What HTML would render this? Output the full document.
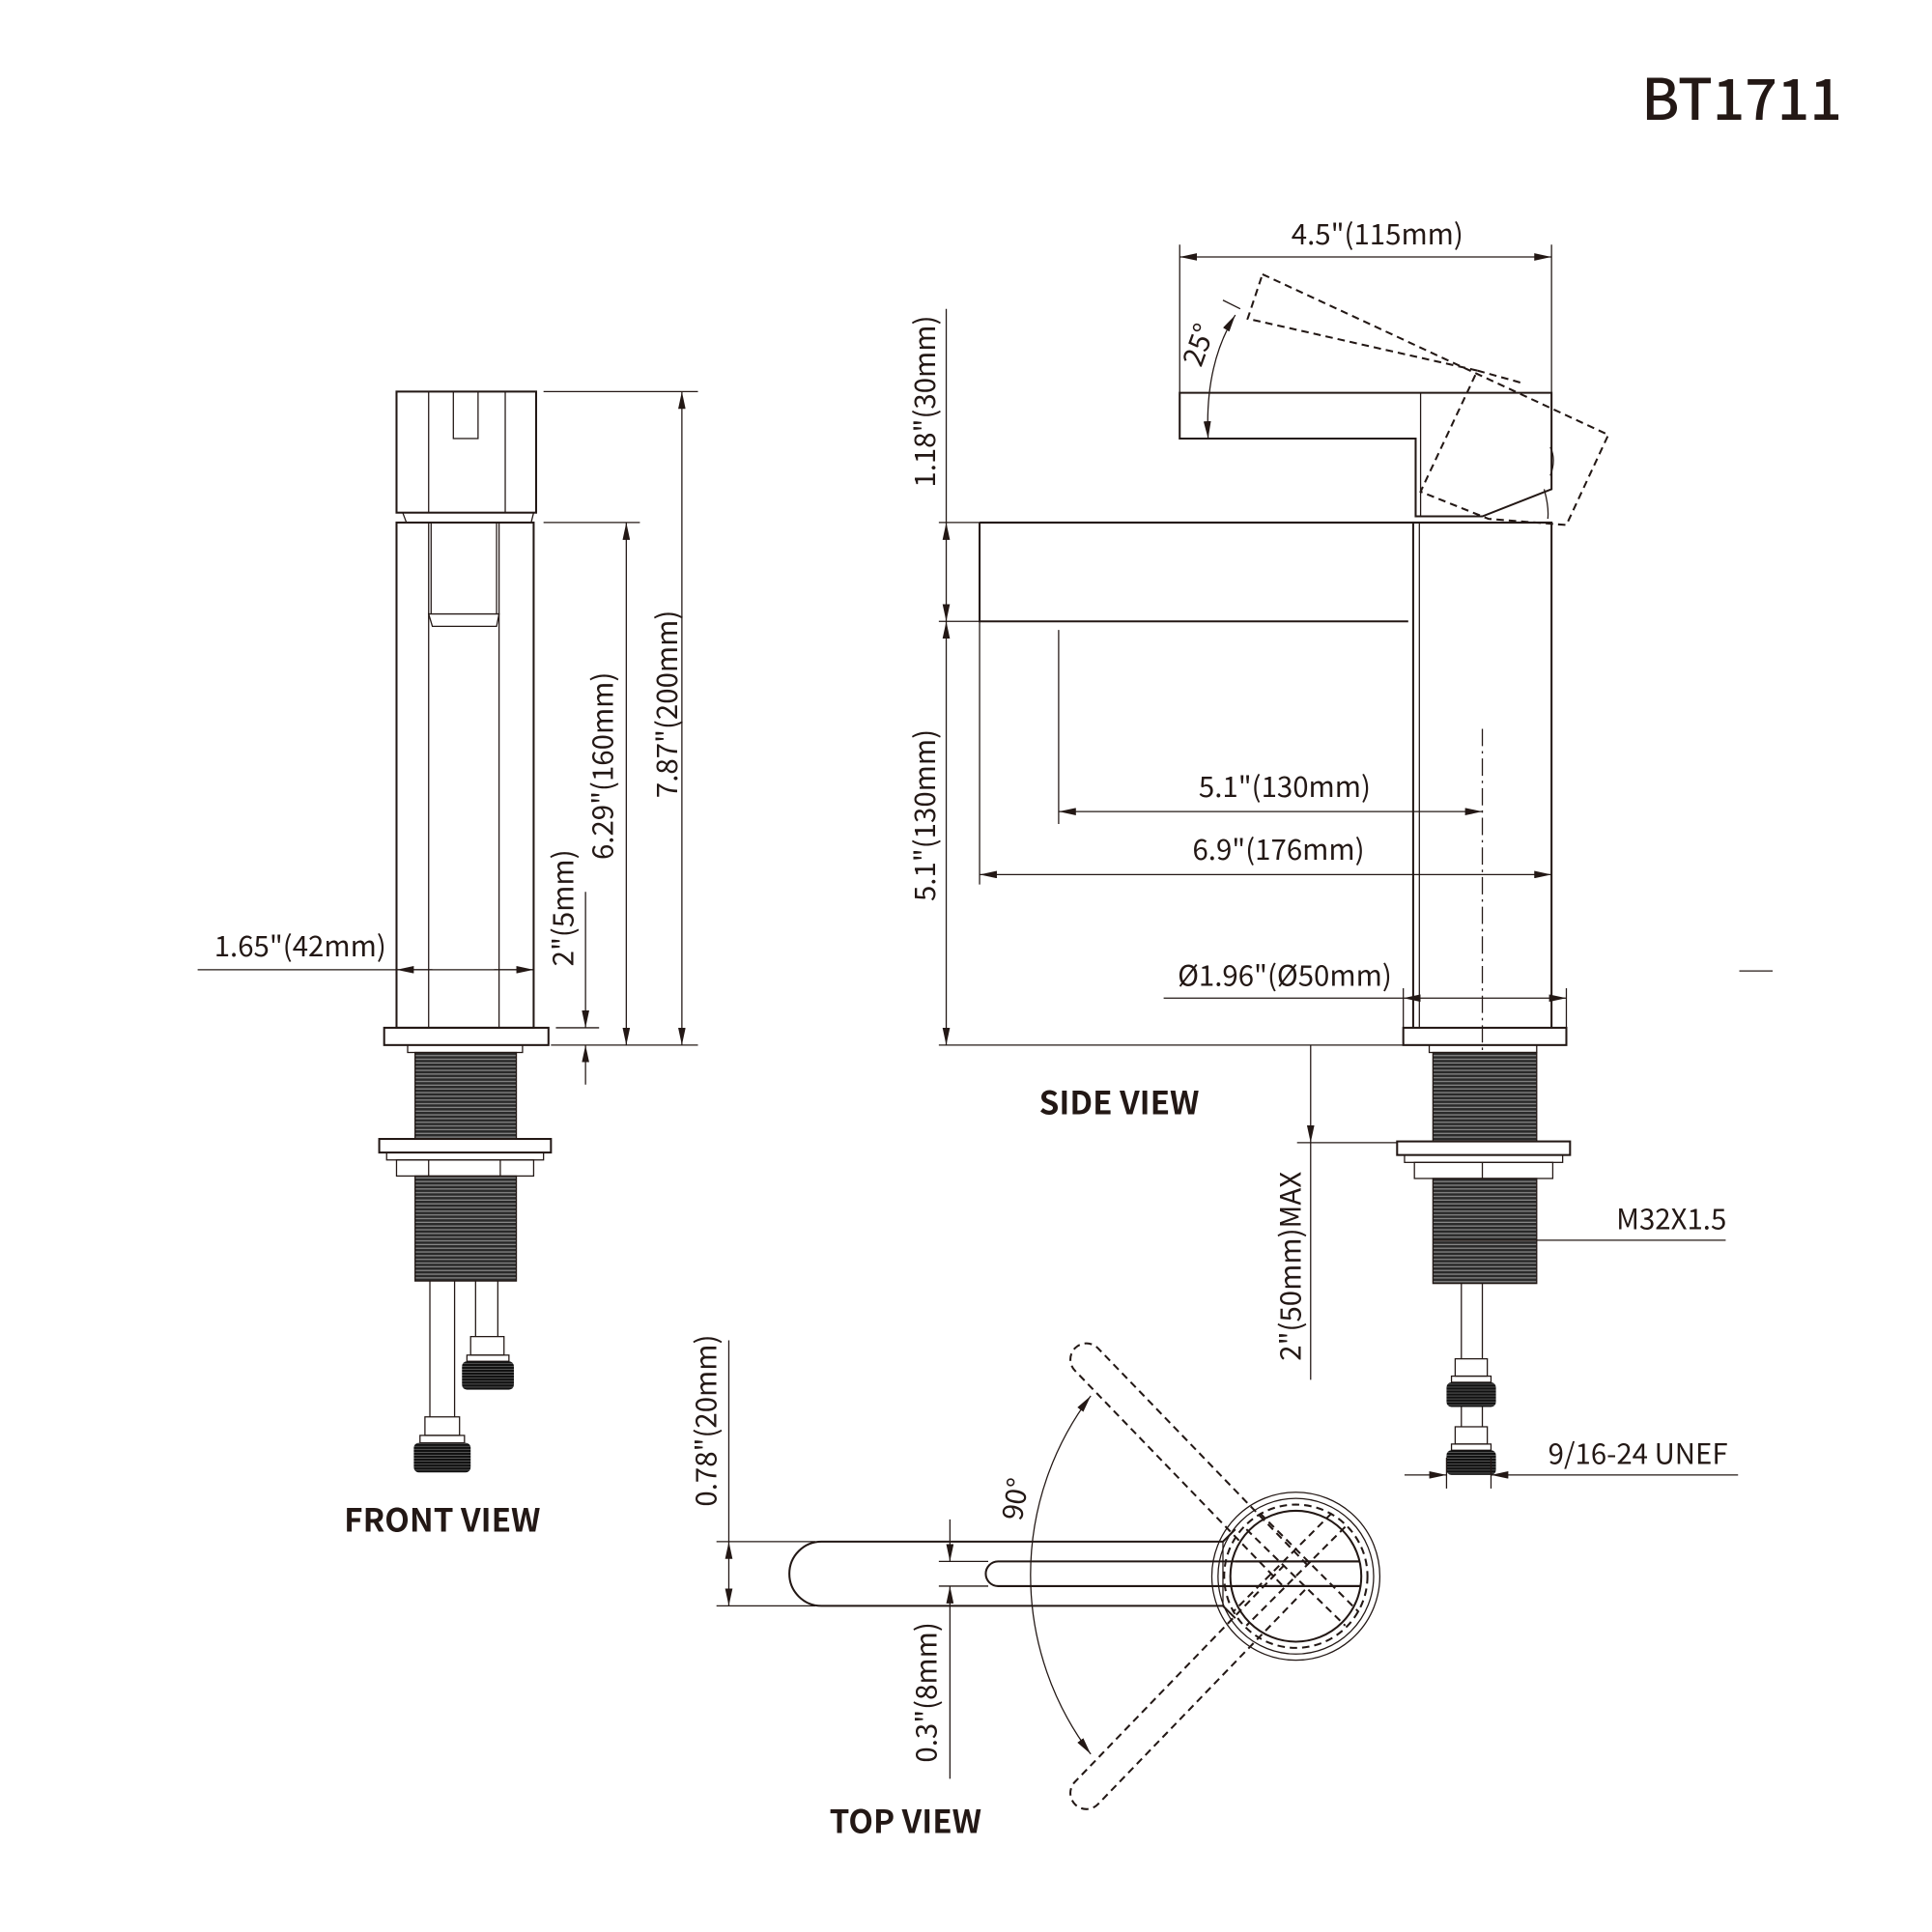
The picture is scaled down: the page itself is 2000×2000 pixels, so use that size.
<!DOCTYPE html>
<html><head><meta charset="utf-8"><style>
html,body{margin:0;padding:0;background:#fff;}
svg{display:block;}
text{font-family:"Liberation Sans","Noto Sans CJK SC",sans-serif;fill:#231815;}
.l{fill:none;stroke:#231815;stroke-width:1.6;}
.t{fill:none;stroke:#231815;stroke-width:1;}
.d{fill:none;stroke:#231815;stroke-width:1.6;stroke-dasharray:6 4;}
.lab{font-family:"Noto Sans CJK SC","Liberation Sans",sans-serif;font-size:23px;}
.big{font-family:"Noto Sans CJK SC","Liberation Sans",sans-serif;font-size:26px;font-weight:bold;}
</style></head><body>
<svg width="2000" height="2000" viewBox="0 0 1564 1564" xmlns="http://www.w3.org/2000/svg">
<defs>
<marker id="a" markerWidth="14" markerHeight="6" refX="14" refY="3" orient="auto" markerUnits="userSpaceOnUse"><path d="M0,0 L14,3 L0,6 Z" fill="#231815"/></marker>
<marker id="b" markerWidth="14" markerHeight="6" refX="0" refY="3" orient="auto" markerUnits="userSpaceOnUse"><path d="M14,0 L0,3 L14,6 Z" fill="#231815"/></marker>
<pattern id="th" width="6" height="3" patternUnits="userSpaceOnUse"><rect width="6" height="3" fill="#888"/><rect width="6" height="2" fill="#2a2a2a"/></pattern>
<pattern id="th2" width="6" height="2.4" patternUnits="userSpaceOnUse"><rect width="6" height="2.4" fill="#666"/><rect width="6" height="1.8" fill="#111"/></pattern>
</defs>

<text x="1410" y="97" text-anchor="middle" style="font-family:'Noto Sans CJK SC','Liberation Sans',sans-serif;font-size:46px;font-weight:500;">BT1711</text>

<!-- FRONT VIEW -->
<g>
<rect class="l" x="321" y="317" width="113" height="98"/>
<line class="t" x1="347" y1="317" x2="347" y2="415"/>
<line class="t" x1="409" y1="317" x2="409" y2="415"/>
<rect class="t" x="367" y="317" width="20" height="38"/>
<path class="t" d="M326,415 L329,423 L430,423 L432,415"/>
<rect class="l" x="321" y="423" width="111" height="409"/>
<line class="t" x1="347" y1="423" x2="347" y2="832"/>
<line class="t" x1="404" y1="423" x2="404" y2="832"/>
<line class="t" x1="349" y1="423" x2="349" y2="497"/>
<line class="t" x1="402" y1="423" x2="402" y2="497"/>
<path class="t" d="M347,497 L404,497 L402,507 L350,507 Z"/>
<rect class="l" x="311" y="832" width="133" height="14"/>
<rect class="t" x="330" y="846" width="93" height="6"/>
<rect x="336" y="852" width="82" height="70" fill="url(#th)" stroke="#231815" stroke-width="1"/>
<rect class="l" x="307" y="922" width="139" height="11"/>
<rect class="t" x="313" y="933" width="127" height="6"/>
<rect class="t" x="321" y="939" width="111" height="13"/>
<line class="t" x1="347" y1="939" x2="347" y2="952"/><line class="t" x1="405" y1="939" x2="405" y2="952"/>
<rect x="336" y="952" width="82" height="85" fill="url(#th)" stroke="#231815" stroke-width="1"/>
<line class="t" x1="348" y1="1037" x2="348" y2="1147"/><line class="t" x1="368" y1="1037" x2="368" y2="1147"/>
<rect class="t" x="344" y="1147" width="28" height="15"/>
<rect class="t" x="340" y="1162" width="36" height="6"/>
<rect x="335" y="1168" width="46" height="24" rx="4" fill="url(#th2)"/>
<line class="t" x1="385" y1="1037" x2="385" y2="1082"/><line class="t" x1="403" y1="1037" x2="403" y2="1082"/>
<rect class="t" x="381" y="1082" width="27" height="15"/>
<rect class="t" x="378" y="1097" width="34" height="5"/>
<rect x="374" y="1102" width="42" height="23" rx="4" fill="url(#th2)"/>

<line class="t" x1="440" y1="317" x2="565" y2="317"/>
<line class="t" x1="446" y1="846" x2="565" y2="846"/>
<line class="t" x1="552" y1="317" x2="552" y2="846" marker-start="url(#b)" marker-end="url(#a)"/>
<text class="lab" transform="translate(548,570) rotate(-90)" text-anchor="middle">7.87"(200mm)</text>
<line class="t" x1="440" y1="423" x2="518" y2="423"/>
<line class="t" x1="507" y1="423" x2="507" y2="846" marker-start="url(#b)" marker-end="url(#a)"/>
<text class="lab" transform="translate(496,620) rotate(-90)" text-anchor="middle">6.29"(160mm)</text>
<line class="t" x1="450" y1="832" x2="485" y2="832"/>
<line class="t" x1="474" y1="722" x2="474" y2="832" marker-end="url(#a)"/>
<line class="t" x1="474" y1="878" x2="474" y2="846" marker-end="url(#a)"/>
<text class="lab" transform="translate(464,735) rotate(-90)" text-anchor="middle">2"(5mm)</text>
<line class="t" x1="160" y1="785" x2="432" y2="785"/>
<line class="t" x1="350" y1="785" x2="321" y2="785" marker-end="url(#a)"/>
<line class="t" x1="400" y1="785" x2="432" y2="785" marker-end="url(#a)"/>
<text class="lab" x="243" y="774" text-anchor="middle">1.65"(42mm)</text>
<text class="big" x="358" y="1240" text-anchor="middle">FRONT VIEW</text>
</g>

<!-- SIDE VIEW -->
<g>
<path class="l" d="M955,318 L1256,318 L1256,396 L1200,418 L1146,418 L1146,355 L955,355 Z"/>
<line class="t" x1="1150" y1="318" x2="1150" y2="418"/>
<path class="t" d="M1250,396 Q1254,410 1253,420"/>
<path class="t" d="M1255,362 Q1260,372 1255,385"/>
<path class="d" d="M1022,222 L1302,352 L1268,425 L1205,420 L1150,398 L1196,300 L1010,258 Z"/>
<path class="d" d="M1196,300 L1232,310"/>
<path class="l" d="M793,423 L1256,423 L1256,832"/>
<path class="l" d="M793,423 L793,503 L1140,503"/>
<line class="l" x1="1144" y1="423" x2="1144" y2="832"/>
<line class="t" x1="1149" y1="423" x2="1149" y2="832"/>
<line class="t" x1="1136" y1="800" x2="1136" y2="832"/>
<line class="t" x1="1268" y1="800" x2="1268" y2="832"/>
<rect class="l" x="1136" y="832" width="132" height="14"/>
<line class="t" x1="1200" y1="590" x2="1200" y2="860" stroke-dasharray="14 4 2 4"/>
<rect class="t" x="1157" y="846" width="87" height="6"/>
<rect x="1160" y="852" width="84" height="72" fill="url(#th)" stroke="#231815" stroke-width="1"/>
<rect class="l" x="1131" y="924" width="140" height="11"/>
<rect class="t" x="1137" y="935" width="128" height="6"/>
<rect class="t" x="1145" y="941" width="112" height="13"/>
<line class="t" x1="1200" y1="941" x2="1200" y2="954"/>
<rect x="1160" y="954" width="84" height="85" fill="url(#th)" stroke="#231815" stroke-width="1"/>
<line class="t" x1="1183" y1="1039" x2="1183" y2="1100"/><line class="t" x1="1200" y1="1039" x2="1200" y2="1100"/>
<rect class="t" x="1178" y="1100" width="26" height="14"/>
<rect class="t" x="1175" y="1114" width="32" height="5"/>
<rect x="1171" y="1119" width="40" height="20" rx="4" fill="url(#th2)"/>
<line class="t" x1="1183" y1="1139" x2="1183" y2="1155"/><line class="t" x1="1200" y1="1139" x2="1200" y2="1155"/>
<rect class="t" x="1178" y="1155" width="26" height="14"/>
<rect class="t" x="1175" y="1169" width="32" height="5"/>
<rect x="1171" y="1174" width="40" height="20" rx="4" fill="url(#th2)"/>

<line class="t" x1="955" y1="198" x2="955" y2="318"/>
<line class="t" x1="1256" y1="198" x2="1256" y2="318"/>
<line class="t" x1="955" y1="208" x2="1256" y2="208" marker-start="url(#b)" marker-end="url(#a)"/>
<text class="lab" x="1115" y="198" text-anchor="middle">4.5"(115mm)</text>
<path class="t" d="M978,355 Q975,295 1000,255" marker-start="url(#b)" marker-end="url(#a)"/>
<line class="t" x1="990" y1="243" x2="1004" y2="250"/>
<text class="lab" transform="translate(978,282) rotate(-70)" text-anchor="middle">25°</text>
<line class="t" x1="760" y1="423" x2="793" y2="423"/>
<line class="t" x1="760" y1="503" x2="793" y2="503"/>
<line class="t" x1="766" y1="423" x2="766" y2="503" marker-start="url(#b)" marker-end="url(#a)"/>
<line class="t" x1="766" y1="250" x2="766" y2="423"/>
<text class="lab" transform="translate(757,325) rotate(-90)" text-anchor="middle">1.18"(30mm)</text>
<line class="t" x1="766" y1="503" x2="766" y2="846" marker-start="url(#b)" marker-end="url(#a)"/>
<line class="t" x1="760" y1="846" x2="1136" y2="846"/>
<text class="lab" transform="translate(757,660) rotate(-90)" text-anchor="middle">5.1"(130mm)</text>
<line class="t" x1="857" y1="510" x2="857" y2="667"/>
<line class="t" x1="857" y1="657" x2="1200" y2="657" marker-start="url(#b)" marker-end="url(#a)"/>
<text class="lab" x="1040" y="645" text-anchor="middle">5.1"(130mm)</text>
<line class="t" x1="793" y1="503" x2="793" y2="716"/>
<line class="t" x1="793" y1="708" x2="1256" y2="708" marker-start="url(#b)" marker-end="url(#a)"/>
<text class="lab" x="1035" y="696" text-anchor="middle">6.9"(176mm)</text>
<line class="t" x1="942" y1="808" x2="1136" y2="808"/>
<line class="t" x1="1136" y1="808" x2="1268" y2="808" marker-start="url(#b)" marker-end="url(#a)"/>
<text class="lab" x="1040" y="798" text-anchor="middle">Ø1.96"(Ø50mm)</text>
<line class="t" x1="1408" y1="786" x2="1435" y2="786"/>
<line class="t" x1="1050" y1="925" x2="1131" y2="925"/>
<line class="t" x1="1061" y1="846" x2="1061" y2="925" marker-end="url(#a)"/>
<line class="t" x1="1061" y1="925" x2="1061" y2="1117"/>
<text class="lab" transform="translate(1053,1025) rotate(-90)" text-anchor="middle">2"(50mm)MAX</text>
<line class="t" x1="1160" y1="1004" x2="1397" y2="1004"/>
<text class="lab" x="1353" y="995" text-anchor="middle">M32X1.5</text>
<line class="t" x1="1171" y1="1180" x2="1171" y2="1205"/><line class="t" x1="1207" y1="1180" x2="1207" y2="1205"/>
<line class="t" x1="1137" y1="1194" x2="1171" y2="1194" marker-end="url(#a)"/>
<line class="t" x1="1407" y1="1194" x2="1207" y2="1194" marker-end="url(#a)"/>
<text class="lab" x="1326" y="1185" text-anchor="middle">9/16-24 UNEF</text>
<text class="big" x="906" y="902" text-anchor="middle">SIDE VIEW</text>
</g>

<!-- TOP VIEW -->
<g>
<path class="l" d="M665,1248 L990,1248 L1000,1238 M1000,1310 L990,1300 L665,1300 A26,26 0 0 1 665,1248"/>
<path class="l" d="M808,1264 L1101,1264 M1101,1284 L808,1284 A10,10 0 0 1 808,1264"/>
<line class="t" x1="990" y1="1248" x2="990" y2="1300"/>
<circle class="t" cx="1049" cy="1276" r="68"/>
<circle class="t" cx="1049" cy="1276" r="63"/>
<circle class="l" cx="1049" cy="1276" r="53" stroke-width="2.2"/>
<circle class="d" cx="1049" cy="1276" r="58"/>
<line class="l" x1="1000" y1="1264" x2="1101" y2="1264" stroke-width="2.2"/>
<line class="l" x1="1000" y1="1284" x2="1101" y2="1284" stroke-width="2.2"/>
<path class="d" d="M1009,1238 L1089,1316 M1089,1236 L1009,1316"/>
<path class="d" d="M1020,1225 L1100,1305 M1078,1225 L998,1305"/>
<g transform="rotate(46 1049 1276)"><path class="d" d="M1049,1263 L805,1263 A13,13 0 0 0 805,1289 L1049,1289"/></g>
<g transform="rotate(-46 1049 1276)"><path class="d" d="M1049,1263 L805,1263 A13,13 0 0 0 805,1289 L1049,1289"/></g>
<path class="t" d="M883,1130 A240,240 0 0 0 883,1420" marker-start="url(#b)" marker-end="url(#a)"/>
<text class="lab" transform="translate(830,1215) rotate(-80)" text-anchor="middle">90°</text>
<line class="t" x1="580" y1="1248" x2="660" y2="1248"/>
<line class="t" x1="580" y1="1300" x2="660" y2="1300"/>
<line class="t" x1="590" y1="1085" x2="590" y2="1248"/>
<line class="t" x1="590" y1="1248" x2="590" y2="1300" marker-start="url(#b)" marker-end="url(#a)"/>
<text class="lab" transform="translate(580,1150) rotate(-90)" text-anchor="middle">0.78"(20mm)</text>
<line class="t" x1="760" y1="1264" x2="800" y2="1264"/>
<line class="t" x1="760" y1="1284" x2="800" y2="1284"/>
<line class="t" x1="769" y1="1230" x2="769" y2="1264" marker-end="url(#a)"/>
<line class="t" x1="769" y1="1440" x2="769" y2="1284" marker-end="url(#a)"/>
<text class="lab" transform="translate(758,1370) rotate(-90)" text-anchor="middle">0.3"(8mm)</text>
<text class="big" x="733" y="1484" text-anchor="middle">TOP VIEW</text>
</g>
</svg>
</body></html>
